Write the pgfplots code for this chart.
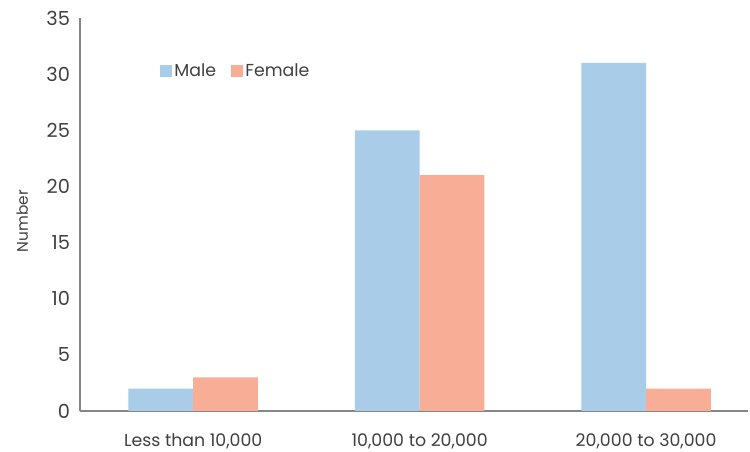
\documentclass[border=0pt]{standalone}
\usepackage{pgfplots}
\pgfplotsset{compat=1.18}
\usepackage{fontspec}
\setmainfont{Poppins}
\definecolor{male}{HTML}{A9CCE9}
\definecolor{female}{HTML}{F7AD96}
\definecolor{axisgray}{HTML}{868686}
\definecolor{txt}{HTML}{404040}
\begin{document}
\begin{tikzpicture}
% fixed page: 750x452 px at 0.75pt per px
\path[use as bounding box] (-60pt,-30.75pt) rectangle (502.5pt,308.25pt);
\begin{axis}[
    at={(0,0)}, anchor=south west,
    scale only axis,
    width=501pt,
    height=294.75pt,
    ybar=0pt,
    bar width=0.286,
    xmin=-0.5, xmax=2.45,
    ymin=0, ymax=35,
    ytick={0,5,...,35},
    xtick=data,
    xticklabels={Less than 10{,}000, 10{,}000 to 20{,}000, 20{,}000 to 30{,}000},
    axis lines*=left,
    axis line style={axisgray, line width=1.1pt, -},
    tick style={draw=none},
    ylabel={Number},
    ylabel style={font=\fontsize{11.5}{13}\selectfont, text=txt, yshift=7pt, xshift=-5pt},
    ticklabel style={font=\fontsize{13}{15}\selectfont, text=txt},
    /pgf/number format/assume math mode=true,
    xticklabel style={anchor=north, yshift=-9pt},
    yticklabel style={anchor=east, xshift=-4pt, font=\fontsize{14.5}{16}\selectfont},
    legend columns=2,
    legend style={draw=none, fill=none, at={(rel axis cs:0.113,0.865)}, anchor=west,
        font=\fontsize{13}{15}\selectfont, text=txt,
        /tikz/every even column/.append style={column sep=9pt}},
    legend image code/.code={\fill[#1] (0pt,-4.5pt) rectangle (9pt,4.5pt);},
    ]
\addplot[fill=male, draw=none] coordinates {(0,2) (1,25) (2,31)};
\addplot[fill=female, draw=none] coordinates {(0,3) (1,21) (2,2)};
\legend{Male, Female}
\end{axis}
\end{tikzpicture}
\end{document}
